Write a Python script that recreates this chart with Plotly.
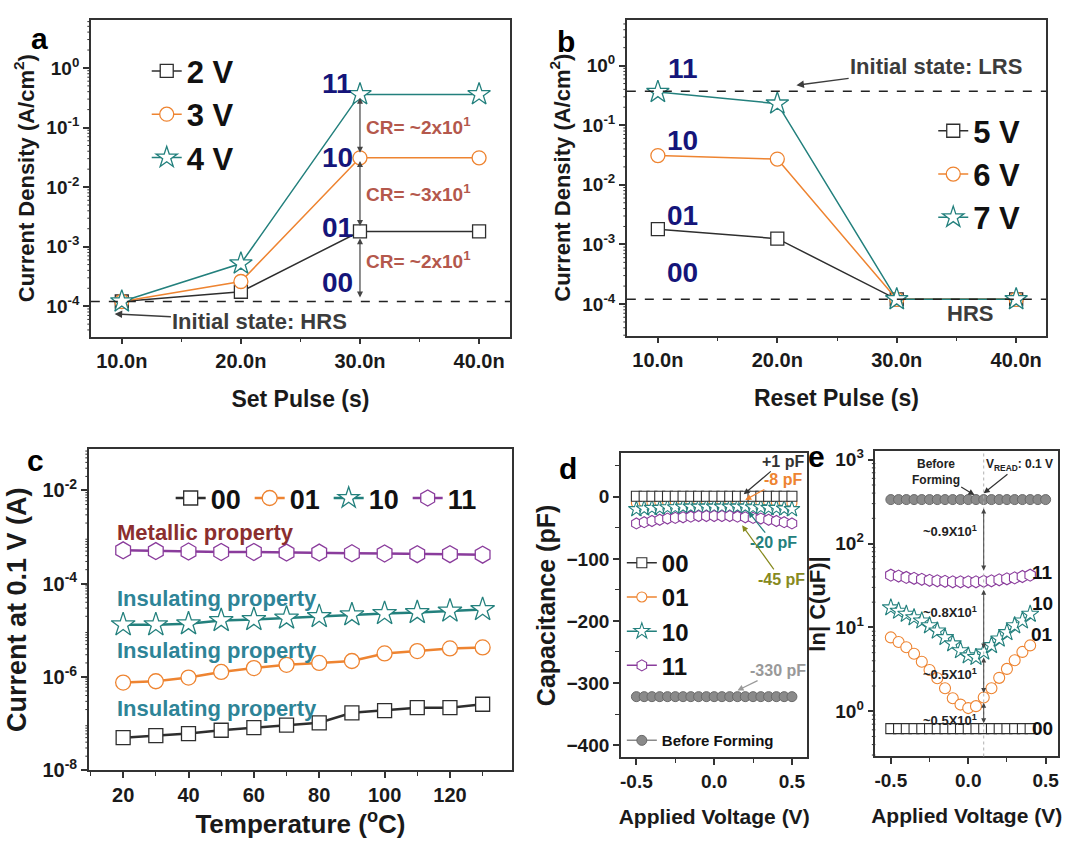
import math
import plotly.graph_objects as go

W, H = 1067, 845
FONT = "Liberation Sans"

# ---------------- data ----------------
pulse_ns = [10, 20, 30, 40]
pulse_labels = ["10.0n", "20.0n", "30.0n", "40.0n"]
set_2V = [1.2e-4, 1.75e-4, 1.8e-3, 1.8e-3]
set_3V = [1.2e-4, 2.6e-4, 3.1e-2, 3.1e-2]
set_4V = [1.2e-4, 5.2e-4, 0.36, 0.36]
reset_5V = [1.8e-3, 1.25e-3, 1.2e-4, 1.2e-4]
reset_6V = [3.1e-2, 2.7e-2, 1.2e-4, 1.2e-4]
reset_7V = [0.36, 0.23, 1.2e-4, 1.2e-4]
hrs_level = 1.2e-4
lrs_level = 0.37
dec_vals = [1e-4, 1e-3, 1e-2, 1e-1, 1]
dec_labels = ["10<sup>-4</sup>", "10<sup>-3</sup>", "10<sup>-2</sup>", "10<sup>-1</sup>", "10<sup>0</sup>"]

temps = [20, 30, 40, 50, 60, 70, 80, 90, 100, 110, 120, 130]
cur_00 = [5.0e-8, 5.5e-8, 6.1e-8, 7.2e-8, 8.2e-8, 9.3e-8, 1.04e-7, 1.7e-7, 1.9e-7, 2.2e-7, 2.2e-7, 2.6e-7]
cur_01 = [7.6e-7, 8.1e-7, 9.7e-7, 1.28e-6, 1.55e-6, 1.82e-6, 2.0e-6, 2.2e-6, 3.2e-6, 3.6e-6, 4.1e-6, 4.3e-6]
cur_10 = [1.32e-5, 1.32e-5, 1.38e-5, 1.62e-5, 1.7e-5, 1.83e-5, 1.98e-5, 2.15e-5, 2.3e-5, 2.4e-5, 2.6e-5, 2.8e-5]
cur_11 = [5.2e-4, 5.0e-4, 4.9e-4, 4.8e-4, 4.8e-4, 4.65e-4, 4.65e-4, 4.5e-4, 4.45e-4, 4.3e-4, 4.3e-4, 4.2e-4]
c_tick_vals = [1e-8, 1e-6, 1e-4, 1e-2]
c_tick_labels = ["10<sup>-8</sup>", "10<sup>-6</sup>", "10<sup>-4</sup>", "10<sup>-2</sup>"]

volt_d = [-0.5, -0.45, -0.4, -0.35, -0.3, -0.25, -0.2, -0.15, -0.1, -0.05, 0.0,
          0.05, 0.1, 0.15, 0.2, 0.25, 0.3, 0.35, 0.4, 0.45, 0.5]
cap_00 = [1, 1, 1, 1, 1, 1, 1, 1, 1, 1, 1, 1, 1, 1, 1, 1, 1, 1, 1, 1, 1]
cap_01 = [-10, -9, -9, -8, -8, -8, -8, -8, -8, -8, -8, -8, -8, -8, -8, -8, -8, -8, -9, -9, -10]
cap_10 = [-20, -19, -18, -18, -17, -17, -16, -16, -16, -16, -16, -16, -16, -16, -16, -17, -17, -18, -18, -19, -20]
cap_11 = [-43, -41, -39, -37, -35, -34, -33, -32, -31, -31, -31, -31, -31, -32, -33, -34, -35, -37, -39, -41, -43]
cap_bf = [-322, -322, -322, -322, -322, -322, -322, -322, -322, -322, -322,
          -322, -322, -322, -322, -322, -322, -322, -322, -322, -322]

volt_e = [-0.5, -0.45, -0.4, -0.35, -0.3, -0.25, -0.2, -0.15, -0.1, -0.05, 0.0,
          0.05, 0.1, 0.15, 0.2, 0.25, 0.3, 0.35, 0.4]
lnc_00 = [0.62, 0.62, 0.62, 0.62, 0.62, 0.62, 0.62, 0.62, 0.62, 0.62, 0.62, 0.62, 0.62, 0.62, 0.62, 0.62, 0.62, 0.62, 0.62]
lnc_01 = [7.6, 6.7, 5.8, 4.85, 3.9, 3.1, 2.47, 1.88, 1.43, 1.2, 1.09, 1.15, 1.46, 1.88, 2.5, 3.2, 4.06, 5.1, 6.1]
lnc_10 = [17.2, 15.7, 14.4, 13.1, 12.0, 10.5, 9.1, 7.6, 6.4, 5.3, 4.6, 4.4, 5.1, 6.1, 7.3, 8.7, 10.5, 12.0, 14.4]
lnc_11 = [42, 41, 39.5, 38.5, 37.5, 36.5, 36, 35.5, 35, 35, 35, 35, 35.5, 36, 37, 38, 39, 40.5, 42]
lnc_bf = [335, 335, 335, 335, 335, 335, 335, 335, 335, 335, 335,
          335, 335, 335, 335, 335, 335, 335, 335, 335, 335]
e_tick_vals = [1, 10, 100, 1000]
e_tick_labels = ["10<sup>0</sup>", "10<sup>1</sup>", "10<sup>2</sup>", "10<sup>3</sup>"]
v_read = 0.1

# ---------------- styles ----------------
BLK = "#2e2e2e"
ORG = "#EE8431"
TEAL = "#23807D"
PURP = "#8A3C9C"
NAVY = "#15157A"
CRC = "#B4584C"
GRAY = "#8a8a8a"
AX = "#333333"


def dx(a, b):
    return [a / W, b / W]


def dy(a, b):
    return [1 - b / H, 1 - a / H]


def px(x):
    return x / W


def py(y):
    return 1 - y / H


def minor_log_vals(lo, hi):
    out = []
    for e in range(lo, hi + 1):
        for k in range(2, 10):
            out.append(k * 10.0 ** e)
    return out


fig = go.Figure()


def mk(symbol, color, size, lw=1.3, fill="white"):
    return dict(symbol=symbol, size=size, color=fill, line=dict(color=color, width=lw))


def add(x, y, name, color, symbol, size, xa, ya, legend, lw=1.5, showlegend=True, mlw=1.3, rank=None):
    kw = {}
    if rank is not None:
        kw["legendrank"] = rank
    fig.add_trace(go.Scatter(
        x=x, y=y, name=name, mode="lines+markers",
        line=dict(color=color, width=lw),
        marker=mk(symbol, color, size, mlw),
        xaxis=xa, yaxis=ya, legend=legend, showlegend=showlegend,
        legendgroup=legend + name, **kw
    ))


# panel a
add(pulse_ns, set_2V, "2 V", BLK, "square", 13, "x", "y", "legend")
add(pulse_ns, set_3V, "3 V", ORG, "circle", 14, "x", "y", "legend")
add(pulse_ns, set_4V, "4 V", TEAL, "star", 17, "x", "y", "legend")
# panel b
add(pulse_ns, reset_5V, "5 V", BLK, "square", 13, "x2", "y2", "legend2")
add(pulse_ns, reset_6V, "6 V", ORG, "circle", 14, "x2", "y2", "legend2")
add(pulse_ns, reset_7V, "7 V", TEAL, "star", 17, "x2", "y2", "legend2")
# panel c
add(temps, cur_00, "00", BLK, "square", 14, "x3", "y3", "legend3", lw=2.5)
add(temps, cur_01, "01", ORG, "circle", 15, "x3", "y3", "legend3", lw=2.5)
add(temps, cur_10, "10", TEAL, "star", 18, "x3", "y3", "legend3", lw=2.5)
add(temps, cur_11, "11", PURP, "hexagon", 17, "x3", "y3", "legend3", lw=2.5)
# panel d
add(volt_d, cap_01, "01", ORG, "circle", 10, "x4", "y4", "legend4", mlw=1.1, rank=2)
add(volt_d, cap_10, "10", TEAL, "star", 12, "x4", "y4", "legend4", mlw=1.1, rank=3)
add(volt_d, cap_00, "00", BLK, "square", 10, "x4", "y4", "legend4", mlw=1.1, rank=1)
add(volt_d, cap_11, "11", PURP, "hexagon", 11, "x4", "y4", "legend4", mlw=1.1, rank=4)
fig.add_trace(go.Scatter(
    x=volt_d, y=cap_bf, name="Before Forming", mode="lines+markers",
    line=dict(color=GRAY, width=1.5),
    marker=dict(symbol="circle", size=10, color=GRAY, line=dict(color="#6a6a6a", width=1)),
    xaxis="x4", yaxis="y4", legend="legend5"))
# panel e
fig.add_trace(go.Scatter(
    x=volt_d, y=lnc_bf, name="Before Forming", mode="lines+markers",
    line=dict(color=GRAY, width=1.5),
    marker=dict(symbol="circle", size=10, color=GRAY, line=dict(color="#6a6a6a", width=1)),
    xaxis="x5", yaxis="y5", showlegend=False))
add(volt_e, lnc_00, "00", BLK, "square", 10, "x5", "y5", "legend", showlegend=False, mlw=1.1, lw=1)
add(volt_e, lnc_01, "01", ORG, "circle", 11, "x5", "y5", "legend", showlegend=False, mlw=1.1, lw=1)
add(volt_e, lnc_10, "10", TEAL, "star", 13, "x5", "y5", "legend", showlegend=False, mlw=1.1, lw=1)
add(volt_e, lnc_11, "11", PURP, "hexagon", 12, "x5", "y5", "legend", showlegend=False, mlw=1.1, lw=1)


# ---------------- axes ----------------
def tf(size):
    return dict(family=FONT, size=size, color="#1a1a1a", weight="bold")


def axis(domain, title, tsize=22, standoff=10, fsize=19, **kw):
    d = dict(domain=domain, showline=True, linecolor=AX, linewidth=1.5, mirror=True,
             ticks="outside", ticklen=6, tickwidth=1.5, tickcolor=AX,
             showgrid=False, zeroline=False, tickfont=tf(fsize),
             title=dict(text=title, font=tf(tsize), standoff=standoff))
    d.update(kw)
    return d


def minor_lin(step):
    return dict(ticks="outside", ticklen=4, tickwidth=1.2, tickcolor=AX, dtick=step, tick0=0,
                showgrid=False)


RA, RB, RC, RE = [-4.51, 0.81], [-4.53, 0.77], [-8, -1.12], [-0.54, 3.1]
XA, YA = (90, 510), (15, 338)
XB, YB = (627, 1047), (15, 337)
XC, YC = (88, 512), (453, 780)
XD, YD = (621, 808), (457, 767)
XE, YE = (876, 1059), (455, 766)

fig.update_layout(
    xaxis=axis(dx(*XA), "Set Pulse (s)", anchor="y", range=[7.4, 42.6], fsize=20, tsize=23,
               tickmode="array", tickvals=pulse_ns, ticktext=pulse_labels, standoff=20,
               minor=minor_lin(5)),
    yaxis=axis(dy(*YA), "Current Density (A/cm<sup>2</sup>)", anchor="x", type="log",
               range=RA, tickmode="array", tickvals=dec_vals, ticktext=dec_labels, standoff=6),
    xaxis2=axis(dx(*XB), "Reset Pulse (s)", anchor="y2", range=[7.4, 42.5], fsize=20, tsize=23,
                tickmode="array", tickvals=pulse_ns, ticktext=pulse_labels, standoff=20,
                minor=minor_lin(5)),
    yaxis2=axis(dy(*YB), "Current Density (A/cm<sup>2</sup>)", anchor="x2", type="log",
                range=RB, tickmode="array", tickvals=dec_vals, ticktext=dec_labels, standoff=6),
    xaxis3=axis(dx(*XC), "Temperature (<sup>o</sup>C)", tsize=26, anchor="y3", range=[9.5, 139],
                tickmode="linear", tick0=20, dtick=20, fsize=20, standoff=10,
                minor=minor_lin(10)),
    yaxis3=axis(dy(*YC), "Current at 0.1 V (A)", tsize=27, anchor="x3", type="log",
                range=RC, tickmode="array", tickvals=c_tick_vals, ticktext=c_tick_labels,
                fsize=20, standoff=8),
    xaxis4=axis(dx(*XD), "Applied Voltage (V)", tsize=21, anchor="y4", range=[-0.6, 0.6],
                tickmode="array", tickvals=[-0.5, 0, 0.5], ticktext=["-0.5", "0.0", "0.5"], standoff=18,
                minor=minor_lin(0.25)),
    yaxis4=axis(dy(*YD), "Capacitance (pF)", tsize=25, anchor="x4", range=[-420, 70],
                tickmode="linear", tick0=0, dtick=100, standoff=4,
                minor=minor_lin(50)),
    xaxis5=axis(dx(*XE), "Applied Voltage (V)", tsize=21, anchor="y5", range=[-0.6, 0.58],
                tickmode="array", tickvals=[-0.5, 0, 0.5], ticktext=["-0.5", "0.0", "0.5"], standoff=18,
                minor=minor_lin(0.25)),
    yaxis5=axis(dy(*YE), "ln| C(uF)|", tsize=22, anchor="x5", type="log",
                range=RE, tickmode="array", tickvals=e_tick_vals, ticktext=e_tick_labels, standoff=4),
)

# ---------------- legends ----------------
def leg(x, y, size, gap, orientation="v", **kw):
    d = dict(x=px(x), y=py(y), xanchor="left", yanchor="top", orientation=orientation,
             bgcolor="rgba(0,0,0,0)", borderwidth=0, tracegroupgap=gap,
             font=dict(family=FONT, size=size, color="#111", weight="bold"))
    d.update(kw)
    return d


fig.update_layout(
    legend=leg(146, 40, 31, 0),
    legend2=leg(934, 101, 31, 0),
    legend3=leg(170, 478, 27, 0, orientation="h", entrywidth=34),
    legend4=leg(622, 546, 24, 0),
    legend5=leg(622, 733, 15, 0),
)

# ---------------- shapes ----------------
shapes = [
    dict(type="line", xref="x domain", yref="y", x0=0, x1=1, y0=hrs_level, y1=hrs_level,
         line=dict(color="#222", width=1.5, dash="dash")),
    dict(type="line", xref="x2 domain", yref="y2", x0=0, x1=1, y0=hrs_level, y1=hrs_level,
         line=dict(color="#222", width=1.5, dash="dash")),
    dict(type="line", xref="x2 domain", yref="y2", x0=0, x1=1, y0=lrs_level, y1=lrs_level,
         line=dict(color="#222", width=1.5, dash="dash")),
    dict(type="line", xref="x5", yref="y5 domain", x0=v_read, x1=v_read, y0=0, y1=1,
         line=dict(color="#b0b0b0", width=1, dash="dot")),
]

# minor log ticks on the left axes (axis furniture, placed in paper space so they are not clipped)
for xpx, ypx, rng, lo, hi in [(XA, YA, RA, -5, 0), (XB, YB, RB, -5, 0),
                              (XC, YC, RC, -9, -1), (XE, YE, RE, -1, 3)]:
    y0d, y1d = dy(*ypx)
    for v in minor_log_vals(lo, hi):
        lv = math.log10(v)
        if rng[0] < lv < rng[1]:
            yp = y0d + (lv - rng[0]) / (rng[1] - rng[0]) * (y1d - y0d)
            shapes.append(dict(type="line", xref="paper", yref="paper",
                               x0=(xpx[0] - 3.5) / W, x1=xpx[0] / W, y0=yp, y1=yp,
                               line=dict(color=AX, width=1)))
fig.update_layout(shapes=shapes)

# ---------------- annotations ----------------
ann = []


def text(x, y, t, xref, yref, size, color, xanchor="center", weight="bold"):
    ann.append(dict(x=x, y=y, text=t, xref=xref, yref=yref, showarrow=False, xanchor=xanchor,
                    font=dict(family=FONT, size=size, color=color, weight=weight)))


def arrow(x, y, ax, ay, xref, yref, color="#444", both=False, t="", size=12, tcolor=None, width=1.2):
    ann.append(dict(x=x, y=y, ax=ax, ay=ay, xref=xref, yref=yref, axref=xref, ayref=yref,
                    text=t, showarrow=True, arrowhead=2, arrowsize=1, arrowwidth=width,
                    arrowcolor=color, arrowside="end+start" if both else "end",
                    font=dict(family=FONT, size=size, color=tcolor or color, weight="bold")))


# panel letters
for lt, (lx, ly) in zip("abcde", [(28, 15), (566, 18), (24, 464), (568, 472), (828, 460)]):
    ann.append(dict(x=px(lx), y=py(ly), xref="paper", yref="paper", text=lt, showarrow=False,
                    font=dict(family=FONT, size=30, color="#000", weight="bold")))

# panel a
for s, yv in [("11", -0.26), ("10", -1.5), ("01", -2.68), ("00", -3.6)]:
    text(28.1, yv, s, "x", "y", 28, NAVY)
text(30.35, -0.97, "CR= ~2x10<sup>1</sup>", "x", "y", 19, CRC, xanchor="left")
text(30.35, -2.1, "CR= ~3x10<sup>1</sup>", "x", "y", 19, CRC, xanchor="left")
text(30.35, -3.23, "CR= ~2x10<sup>1</sup>", "x", "y", 19, CRC, xanchor="left")
arrow(30, -0.5, 30, -1.45, "x", "y", both=True)
arrow(30, -1.56, 30, -2.68, "x", "y", both=True)
arrow(30, -2.86, 30, -3.88, "x", "y", both=True)
arrow(9.4, -4.13, 21.6, -4.25, "x", "y", t="Initial state: HRS", size=22, tcolor="#3c3c3c", color="#3c3c3c", width=1.5)

# panel b
for s, yv in [("11", -0.05), ("10", -1.25), ("01", -2.52), ("00", -3.47)]:
    text(12.1, yv, s, "x2", "y2", 28, NAVY)
arrow(21.6, -0.33, 33.3, -0.02, "x2", "y2", t="Initial state: LRS", size=22, tcolor="#3c3c3c", color="#3c3c3c", width=1.5)
text(36.1, -4.16, "HRS", "x2", "y2", 22, "#3c3c3c")

# panel c
text(17.6, -2.9, "Metallic property", "x3", "y3", 22, "#8B2E2E", xanchor="left")
text(17.6, -4.32, "Insulating property", "x3", "y3", 22, "#2E8497", xanchor="left")
text(17.6, -5.43, "Insulating property", "x3", "y3", 22, "#2E8497", xanchor="left")
text(17.6, -6.67, "Insulating property", "x3", "y3", 22, "#2E8497", xanchor="left")

# panel d
arrow(0.19, 4, 0.44, 57, "x4", "y4", t="+1 pF", size=16, color="#333", tcolor="#333")
arrow(0.2, -5, 0.44, 28, "x4", "y4", t="-8 pF", size=16, color=ORG, tcolor=ORG)
arrow(0.22, -24, 0.38, -74, "x4", "y4", t="-20 pF", size=16, color=TEAL, tcolor=TEAL)
arrow(0.18, -46, 0.43, -133, "x4", "y4", t="-45 pF", size=16, color="#878a1e", tcolor="#878a1e")
arrow(0.15, -312, 0.41, -280, "x4", "y4", t="-330 pF", size=16, color="#999", tcolor="#999")

# panel e
for s, yv in [("11", 1.65), ("10", 1.29), ("01", 0.91), ("00", -0.21)]:
    text(0.478, yv, s, "x5", "y5", 19, "#111")
arrow(v_read, 2.42, v_read, 1.66, "x5", "y5", both=True, width=1)
arrow(v_read, 1.45, v_read, 0.73, "x5", "y5", both=True, width=1)
arrow(v_read, 0.64, v_read, 0.2, "x5", "y5", both=True, width=1)
arrow(v_read, 0.1, v_read, -0.16, "x5", "y5", both=True, width=1)
text(0.07, 2.15, "~0.9X10<sup>1</sup>", "x5", "y5", 13, "#222", xanchor="right")
text(0.07, 1.18, "~0.8X10<sup>1</sup>", "x5", "y5", 13, "#222", xanchor="right")
text(0.07, 0.45, "~0.5X10<sup>1</sup>", "x5", "y5", 13, "#222", xanchor="right")
text(0.07, -0.1, "~0.5X10<sup>1</sup>", "x5", "y5", 13, "#222", xanchor="right")
arrow(0.04, 2.58, -0.21, 2.86, "x5", "y5", t="Before<br>Forming", size=12, color="#333", tcolor="#222")
arrow(0.1, 2.6, 0.33, 2.94, "x5", "y5", t="V<sub>READ</sub>: 0.1 V", size=12, color="#333", tcolor="#222")

fig.update_layout(annotations=ann)

fig.update_layout(width=W, height=H, margin=dict(l=0, r=0, t=0, b=0), autosize=False,
                  paper_bgcolor="white", plot_bgcolor="white",
                  font=dict(family=FONT, color="#111"))

fig.write_html("out.html")
